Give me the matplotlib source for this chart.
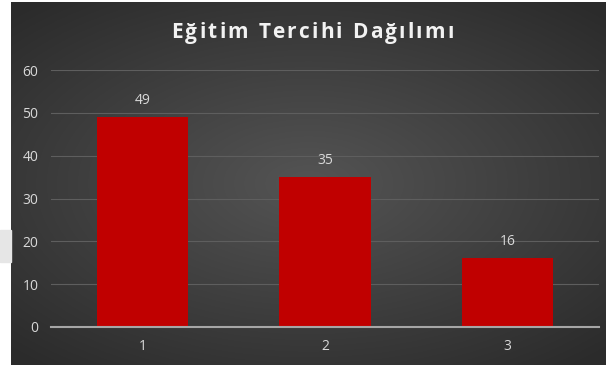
import numpy as np
import matplotlib.pyplot as plt
from matplotlib.patches import Rectangle

plt.rcParams['font.family'] = ['Open Sans', 'DejaVu Sans']

categories = ['1', '2', '3']
counts = [49, 35, 16]
yticks = [0, 10, 20, 30, 40, 50, 60]
title = 'Eğitim Tercihi Dağılımı'


def spaced_title(fig, s, cx, cy, tracking, **kw):
  # lay the title out letter by letter so it can be tracked a bit wider
  r = fig.canvas.get_renderer()
  widths = []
  for ch in s:
    t = fig.text(0, 0, ch, **kw)
    widths.append(t.get_window_extent(r).width if ch != ' ' else None)
    t.remove()
  sp = fig.text(0, 0, 'a a', **kw)
  nosp = fig.text(0, 0, 'aa', **kw)
  space_w = sp.get_window_extent(r).width - nosp.get_window_extent(r).width
  sp.remove()
  nosp.remove()
  widths = [w if w is not None else space_w for w in widths]
  total = sum(widths) + tracking*(len(s) - 1)
  W = fig.bbox.width
  x = cx*W - total/2
  for ch, w in zip(s, widths):
    if ch != ' ':
      fig.text(x/W, cy, ch, ha='left', va='center', **kw)
    x += w + tracking


def main():
  fig = plt.figure(figsize=(6.06, 3.69), dpi=100)
  fig.patch.set_facecolor('white')

  # dark backdrop with a soft radial glow in the middle
  bg = fig.add_axes([11/606, 4/369, 595/606, 363/369])
  yy, xx = np.mgrid[-1:1:300j, -1:1:500j]
  r = np.sqrt((xx/1.1)**2 + (yy/1.0)**2)
  shade = np.clip(1 - r/1.3, 0, 1)
  grey = 0.17 + 0.16*shade
  img = np.dstack([grey, grey, grey])
  bg.imshow(img, aspect='auto', extent=[0, 1, 0, 1])
  bg.set_axis_off()

  # little grey stub on the left margin
  fig.patches.append(Rectangle((0, (369-262)/369), 11/606, 32/369,
                               transform=fig.transFigure, color='#e6e6e6', zorder=0))

  ax = fig.add_axes([51/606, (369-327)/369, 548/606, 257/369])
  ax.set_facecolor('none')
  x = np.arange(len(categories))
  bars = ax.bar(x, counts, width=0.5, color='#c00000', zorder=3)
  for b, v in zip(bars, counts):
    ax.text(b.get_x() + b.get_width()/2, v + 2.2, str(v), ha='center', va='bottom',
            color='#d9d9d9', fontsize=10)

  ax.set_xlim(-0.5, len(categories) - 0.5)
  ax.set_ylim(0, 60)
  ax.set_yticks(yticks)
  ax.set_xticks(x)
  ax.set_xticklabels(categories)
  ax.tick_params(axis='both', length=0, colors='#d9d9d9', labelsize=10)
  ax.tick_params(axis='y', pad=9)
  ax.tick_params(axis='x', pad=9)
  ax.yaxis.grid(True, color='#5e5e5e', linewidth=0.8, zorder=0)
  for s in ['top', 'right', 'left']:
    ax.spines[s].set_visible(False)
  ax.spines['bottom'].set_color('#a6a6a6')
  ax.spines['bottom'].set_linewidth(1.5)
  ax.spines['bottom'].set_zorder(4)

  spaced_title(fig, title, 312.5/606, (369-33)/369, 2.2,
               color='#f2f2f2', fontsize=15, fontweight='bold')

  plt.savefig('out.png', dpi=100)


if __name__ == "__main__":
  main()
